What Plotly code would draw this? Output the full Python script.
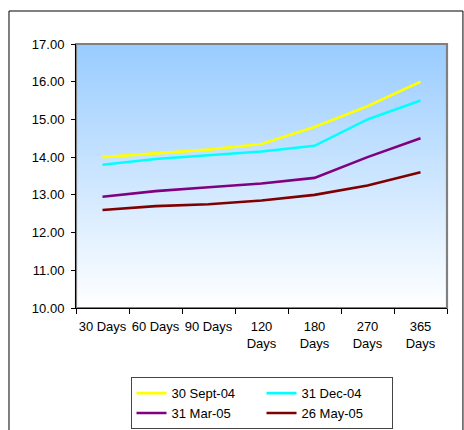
import base64
import plotly.graph_objects as go

categories = ["30 Days", "60 Days", "90 Days", "120<br>Days", "180<br>Days", "270<br>Days", "365<br>Days"]
series_names = ["30 Sept-04", "31 Dec-04", "31 Mar-05", "26 May-05"]
sept04 = [14.00, 14.10, 14.20, 14.35, 14.80, 15.35, 16.00]
dec04 = [13.80, 13.95, 14.05, 14.15, 14.30, 15.00, 15.50]
mar05 = [12.95, 13.10, 13.20, 13.30, 13.45, 14.00, 14.50]
may05 = [12.60, 12.70, 12.75, 12.85, 13.00, 13.25, 13.60]
colors = ["#FFFF00", "#00FFFF", "#800080", "#800000"]
y_ticks = [10, 11, 12, 13, 14, 15, 16, 17]

fig = go.Figure()
for name, vals, col in zip(series_names, [sept04, dec04, mar05, may05], colors):
    fig.add_trace(go.Scatter(x=categories, y=vals, name=name, mode="lines",
                             line=dict(color=col, width=2.6)))

svg = ('<svg xmlns="http://www.w3.org/2000/svg" width="100" height="100" preserveAspectRatio="none">'
       '<defs><linearGradient id="g" x1="0" y1="0" x2="0" y2="1">'
       '<stop offset="0" stop-color="#99CCFF"/><stop offset="1" stop-color="#FFFFFF"/>'
       '</linearGradient></defs><rect width="100" height="100" fill="url(#g)"/></svg>')
src = "data:image/svg+xml;base64," + base64.b64encode(svg.encode()).decode()

font = dict(family="Liberation Sans, Arial, sans-serif", size=13, color="#000000")

fig.update_layout(
    width=464, height=430,
    margin=dict(l=76, r=17, t=44, b=122, autoexpand=False),
    paper_bgcolor="#FFFFFF",
    plot_bgcolor="rgba(0,0,0,0)",
    font=font,
    images=[dict(source=src, xref="paper", yref="paper", x=0, y=1, sizex=1, sizey=1,
                 sizing="stretch", layer="below", xanchor="left", yanchor="top")],
    xaxis=dict(type="category", range=[-0.5, len(categories) - 0.5], tickson="boundaries",
               ticks="outside", ticklen=5, ticklabelstandoff=6, tickangle=0,
               tickcolor="#000000", showline=True, linecolor="#000000", linewidth=1,
               showgrid=False, zeroline=False, tickfont=font),
    yaxis=dict(range=[10, 17], tickvals=y_ticks, tickformat=".2f", ticks="outside",
               ticklen=4, tickcolor="#000000", showline=True, linecolor="#000000",
               linewidth=1, showgrid=False, zeroline=False, tickfont=font,
               ticklabelstandoff=4),
    legend=dict(orientation="h", x=0.5, xanchor="center", y=-0.262, yanchor="top",
                bordercolor="#444444", borderwidth=1, bgcolor="#FFFFFF",
                entrywidth=85, entrywidthmode="pixels", font=font),
    showlegend=True,
    shapes=[
        dict(type="rect", xref="paper", yref="paper", x0=0, x1=1, y0=0, y1=1,
             line=dict(color="#808080", width=2.2), layer="below"),
        dict(type="rect", xref="paper", yref="paper", x0=-0.1806, x1=1.043,
             y0=-0.48, y1=1.125, line=dict(color="#000000", width=1)),
    ],
)

fig.write_html("out.html", config={"displayModeBar": False},
               post_script="document.body.style.margin='0';document.body.style.overflow='hidden';")
